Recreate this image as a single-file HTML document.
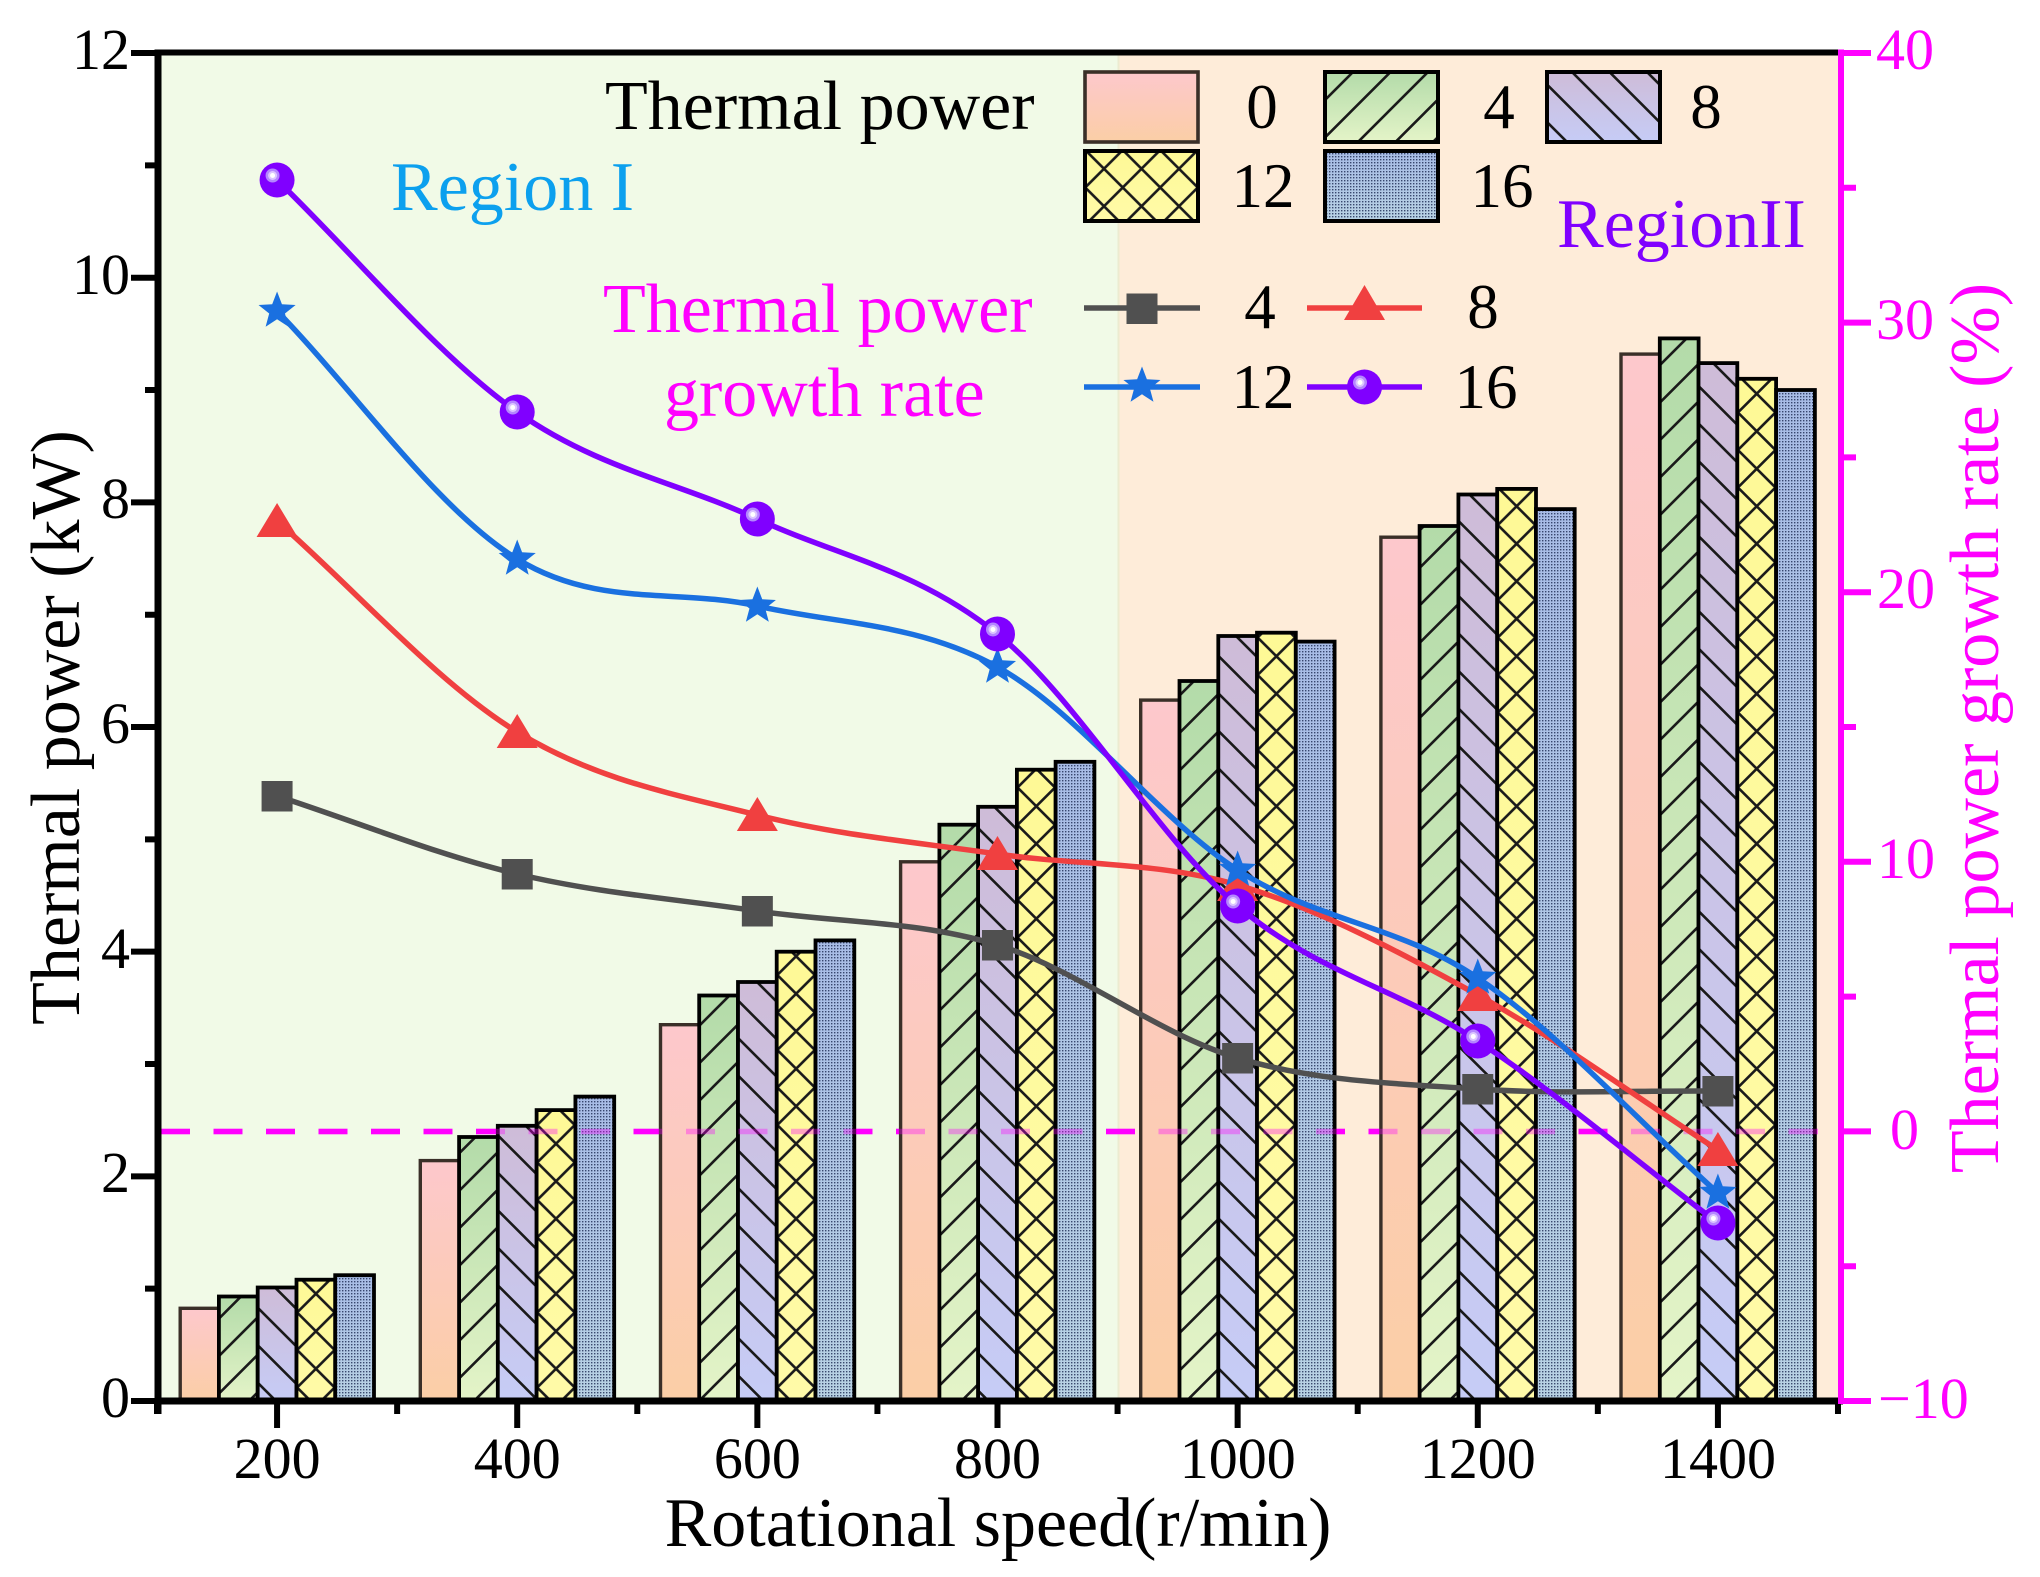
<!DOCTYPE html>
<html>
<head>
<meta charset="utf-8">
<style>
html,body{margin:0;padding:0;background:#fff;}
svg{display:block;}
text{font-family:"Liberation Serif","Times New Roman",serif;}
</style>
</head>
<body>
<svg width="2040" height="1577" viewBox="0 0 2040 1577" xmlns="http://www.w3.org/2000/svg">
<defs>
  <linearGradient id="g0" x1="0" y1="0" x2="0" y2="1"><stop offset="0" stop-color="#fdc8cc"/><stop offset="1" stop-color="#fbcea6"/></linearGradient>
  <linearGradient id="g1" x1="0" y1="0" x2="0" y2="1"><stop offset="0" stop-color="#b3dba9"/><stop offset="1" stop-color="#e4f4c8"/></linearGradient>
  <linearGradient id="g2" x1="0" y1="0" x2="0" y2="1"><stop offset="0" stop-color="#cebcd8"/><stop offset="1" stop-color="#c6ccf6"/></linearGradient>
  <linearGradient id="g3" x1="0" y1="0" x2="0" y2="1"><stop offset="0" stop-color="#fef996"/><stop offset="1" stop-color="#fffaa8"/></linearGradient>
  <linearGradient id="g4" x1="0" y1="0" x2="0" y2="1"><stop offset="0" stop-color="#a8bce6"/><stop offset="1" stop-color="#b8d2e4"/></linearGradient>
  <pattern id="dots" width="3" height="3" patternUnits="userSpaceOnUse"><rect width="1.4" height="1.4" fill="#1a2850" fill-opacity="0.8"/></pattern>
  <pattern id="hR" width="37.5" height="37.5" patternUnits="userSpaceOnUse"><path d="M-5,42.5L42.5,-5M-5,5L5,-5M32.5,42.5L42.5,32.5" stroke="#1a1a1a" stroke-width="2.6" fill="none"/></pattern>
  <pattern id="hL" width="37.5" height="37.5" patternUnits="userSpaceOnUse"><path d="M-5,-5L42.5,42.5M-5,32.5L5,42.5M32.5,-5L42.5,5" stroke="#1a1a1a" stroke-width="2.6" fill="none"/></pattern>
  <path id="xp" d="M-5,-5L42.5,42.5M-5,32.5L5,42.5M32.5,-5L42.5,5M-5,42.5L42.5,-5M-5,5L5,-5M32.5,42.5L42.5,32.5" stroke="#1a1a1a" stroke-width="2.6" fill="none"/>
  <pattern id="x0" x="297.15" y="0" width="37.5" height="37.5" patternUnits="userSpaceOnUse"><use href="#xp"/></pattern>
  <pattern id="x1" x="537.25" y="0" width="37.5" height="37.5" patternUnits="userSpaceOnUse"><use href="#xp"/></pattern>
  <pattern id="x2" x="777.35" y="0" width="37.5" height="37.5" patternUnits="userSpaceOnUse"><use href="#xp"/></pattern>
  <pattern id="x3" x="1017.55" y="0" width="37.5" height="37.5" patternUnits="userSpaceOnUse"><use href="#xp"/></pattern>
  <pattern id="x4" x="1257.65" y="0" width="37.5" height="37.5" patternUnits="userSpaceOnUse"><use href="#xp"/></pattern>
  <pattern id="x5" x="1497.85" y="0" width="37.5" height="37.5" patternUnits="userSpaceOnUse"><use href="#xp"/></pattern>
  <pattern id="x6" x="1737.95" y="0" width="37.5" height="37.5" patternUnits="userSpaceOnUse"><use href="#xp"/></pattern>
  <pattern id="xl" x="1122.75" y="0" width="37.5" height="37.5" patternUnits="userSpaceOnUse"><use href="#xp"/></pattern>

  <path id="sq" d="M-15.5,-15h31v30.5h-31z" fill="#505050"/>
  <path id="tri" d="M0,-18L20.5,16L-20.5,16z" fill="#f04040"/>
  <path id="triL" d="M0,-23L20.5,12L-20.5,12z" fill="#f04040"/>
  <path id="star" d="M0,-19.5L4.88,-6.71L18.55,-6.03L7.89,2.56L11.46,15.78L0,8.3L-11.46,15.78L-7.89,2.56L-18.55,-6.03L-4.88,-6.71z" fill="#1a70e0"/>
  <g id="sph"><circle r="17.5" fill="#8000ff"/><circle cx="-4.5" cy="-4.5" r="7" fill="#b487ff"/><circle cx="-4.5" cy="-4.5" r="4.5" fill="#dcc6ff"/><circle cx="-4.5" cy="-4.5" r="2.5" fill="#fff"/></g>
</defs>

<!-- backgrounds -->
<rect x="158" y="52" width="960" height="1349" fill="#f1fae7"/>
<rect x="1118" y="52" width="723" height="1349" fill="#feecd9"/>
<line x1="1118.5" y1="55" x2="1118.5" y2="1398" stroke="#ecebd0" stroke-width="2"/>

<!-- dashed zero line (under bars) -->
<line x1="161" y1="1131.5" x2="1838" y2="1131.5" stroke="#ff00ff" stroke-width="5.5" stroke-dasharray="29 23.5"/>

<!-- bars -->
<g>
  <!-- 200 -->
  <rect x="180.2" y="1308.3" width="38.8" height="92.7" fill="url(#g0)" stroke="#3a2f28" stroke-width="3.4"/>
  <rect x="218.9" y="1296.5" width="38.8" height="104.5" fill="url(#g1)"/><rect x="218.9" y="1296.5" width="38.8" height="104.5" fill="url(#hR)" stroke="#000" stroke-width="3.8"/>
  <rect x="257.7" y="1287.5" width="38.8" height="113.5" fill="url(#g2)"/><rect x="257.7" y="1287.5" width="38.8" height="113.5" fill="url(#hL)" stroke="#000" stroke-width="3.8"/>
  <rect x="296.5" y="1279.7" width="38.8" height="121.3" fill="url(#g3)"/><rect x="296.5" y="1279.7" width="38.8" height="121.3" fill="url(#x0)" stroke="#000" stroke-width="3.8"/>
  <rect x="335.2" y="1275.2" width="38.8" height="125.8" fill="url(#g4)"/><rect x="335.2" y="1275.2" width="38.8" height="125.8" fill="url(#dots)" stroke="#000" stroke-width="3.8"/>
  <!-- 400 -->
  <rect x="420.3" y="1160.6" width="38.8" height="240.4" fill="url(#g0)" stroke="#3a2f28" stroke-width="3.4"/>
  <rect x="459.1" y="1137" width="38.8" height="264" fill="url(#g1)"/><rect x="459.1" y="1137" width="38.8" height="264" fill="url(#hR)" stroke="#000" stroke-width="3.8"/>
  <rect x="497.8" y="1125.8" width="38.8" height="275.2" fill="url(#g2)"/><rect x="497.8" y="1125.8" width="38.8" height="275.2" fill="url(#hL)" stroke="#000" stroke-width="3.8"/>
  <rect x="536.6" y="1110.1" width="38.8" height="290.9" fill="url(#g3)"/><rect x="536.6" y="1110.1" width="38.8" height="290.9" fill="url(#x1)" stroke="#000" stroke-width="3.8"/>
  <rect x="575.4" y="1096.6" width="38.8" height="304.4" fill="url(#g4)"/><rect x="575.4" y="1096.6" width="38.8" height="304.4" fill="url(#dots)" stroke="#000" stroke-width="3.8"/>
  <!-- 600 -->
  <rect x="660.5" y="1024.7" width="38.8" height="376.3" fill="url(#g0)" stroke="#3a2f28" stroke-width="3.4"/>
  <rect x="699.2" y="995.5" width="38.8" height="405.5" fill="url(#g1)"/><rect x="699.2" y="995.5" width="38.8" height="405.5" fill="url(#hR)" stroke="#000" stroke-width="3.8"/>
  <rect x="738" y="982" width="38.8" height="419" fill="url(#g2)"/><rect x="738" y="982" width="38.8" height="419" fill="url(#hL)" stroke="#000" stroke-width="3.8"/>
  <rect x="776.7" y="951.7" width="38.8" height="449.3" fill="url(#g3)"/><rect x="776.7" y="951.7" width="38.8" height="449.3" fill="url(#x2)" stroke="#000" stroke-width="3.8"/>
  <rect x="815.5" y="940.4" width="38.8" height="460.6" fill="url(#g4)"/><rect x="815.5" y="940.4" width="38.8" height="460.6" fill="url(#dots)" stroke="#000" stroke-width="3.8"/>
  <!-- 800 -->
  <rect x="900.6" y="861.8" width="38.8" height="539.2" fill="url(#g0)" stroke="#3a2f28" stroke-width="3.4"/>
  <rect x="939.4" y="824.7" width="38.8" height="576.3" fill="url(#g1)"/><rect x="939.4" y="824.7" width="38.8" height="576.3" fill="url(#hR)" stroke="#000" stroke-width="3.8"/>
  <rect x="978.1" y="806.8" width="38.8" height="594.2" fill="url(#g2)"/><rect x="978.1" y="806.8" width="38.8" height="594.2" fill="url(#hL)" stroke="#000" stroke-width="3.8"/>
  <rect x="1016.9" y="769.7" width="38.8" height="631.3" fill="url(#g3)"/><rect x="1016.9" y="769.7" width="38.8" height="631.3" fill="url(#x3)" stroke="#000" stroke-width="3.8"/>
  <rect x="1055.6" y="761.8" width="38.8" height="639.2" fill="url(#g4)"/><rect x="1055.6" y="761.8" width="38.8" height="639.2" fill="url(#dots)" stroke="#000" stroke-width="3.8"/>
  <!-- 1000 -->
  <rect x="1140.7" y="700.1" width="38.8" height="700.9" fill="url(#g0)" stroke="#3a2f28" stroke-width="3.4"/>
  <rect x="1179.5" y="681" width="38.8" height="720" fill="url(#g1)"/><rect x="1179.5" y="681" width="38.8" height="720" fill="url(#hR)" stroke="#000" stroke-width="3.8"/>
  <rect x="1218.3" y="636" width="38.8" height="765" fill="url(#g2)"/><rect x="1218.3" y="636" width="38.8" height="765" fill="url(#hL)" stroke="#000" stroke-width="3.8"/>
  <rect x="1257" y="632.7" width="38.8" height="768.3" fill="url(#g3)"/><rect x="1257" y="632.7" width="38.8" height="768.3" fill="url(#x4)" stroke="#000" stroke-width="3.8"/>
  <rect x="1295.8" y="641.6" width="38.8" height="759.4" fill="url(#g4)"/><rect x="1295.8" y="641.6" width="38.8" height="759.4" fill="url(#dots)" stroke="#000" stroke-width="3.8"/>
  <!-- 1200 -->
  <rect x="1380.9" y="537.2" width="38.8" height="863.8" fill="url(#g0)" stroke="#3a2f28" stroke-width="3.4"/>
  <rect x="1419.6" y="526" width="38.8" height="875" fill="url(#g1)"/><rect x="1419.6" y="526" width="38.8" height="875" fill="url(#hR)" stroke="#000" stroke-width="3.8"/>
  <rect x="1458.4" y="494.5" width="38.8" height="906.5" fill="url(#g2)"/><rect x="1458.4" y="494.5" width="38.8" height="906.5" fill="url(#hL)" stroke="#000" stroke-width="3.8"/>
  <rect x="1497.2" y="488.9" width="38.8" height="912.1" fill="url(#g3)"/><rect x="1497.2" y="488.9" width="38.8" height="912.1" fill="url(#x5)" stroke="#000" stroke-width="3.8"/>
  <rect x="1535.9" y="509.1" width="38.8" height="891.9" fill="url(#g4)"/><rect x="1535.9" y="509.1" width="38.8" height="891.9" fill="url(#dots)" stroke="#000" stroke-width="3.8"/>
  <!-- 1400 -->
  <rect x="1621" y="354.1" width="38.8" height="1046.9" fill="url(#g0)" stroke="#3a2f28" stroke-width="3.4"/>
  <rect x="1659.8" y="338.4" width="38.8" height="1062.6" fill="url(#g1)"/><rect x="1659.8" y="338.4" width="38.8" height="1062.6" fill="url(#hR)" stroke="#000" stroke-width="3.8"/>
  <rect x="1698.5" y="363.1" width="38.8" height="1037.9" fill="url(#g2)"/><rect x="1698.5" y="363.1" width="38.8" height="1037.9" fill="url(#hL)" stroke="#000" stroke-width="3.8"/>
  <rect x="1737.3" y="378.8" width="38.8" height="1022.2" fill="url(#g3)"/><rect x="1737.3" y="378.8" width="38.8" height="1022.2" fill="url(#x6)" stroke="#000" stroke-width="3.8"/>
  <rect x="1776.1" y="390" width="38.8" height="1011" fill="url(#g4)"/><rect x="1776.1" y="390" width="38.8" height="1011" fill="url(#dots)" stroke="#000" stroke-width="3.8"/>
</g>

<!-- dashed overlay (faint over bars) -->
<line x1="161" y1="1131.5" x2="1838" y2="1131.5" stroke="#ff00ff" stroke-width="5.5" stroke-dasharray="29 23.5" stroke-opacity="0.35"/>

<!-- curves -->
<g fill="none" stroke-width="5.5" stroke-linejoin="round" stroke-linecap="round">
  <path stroke="#505050" d="M277.07,796C357.12,822 437.16,854.83 517.21,874C597.26,893.17 677.3,899.17 757.35,911C837.4,922.83 917.44,920.5 997.49,945C1077.54,969.5 1157.58,1034 1237.63,1058C1317.68,1082 1397.72,1083.5 1477.77,1089C1557.82,1094.5 1637.86,1090.33 1717.91,1091"/>
</g>
<g>
  <use href="#sq" x="277.07" y="796"/><use href="#sq" x="517.21" y="874"/><use href="#sq" x="757.35" y="911"/><use href="#sq" x="997.49" y="945"/><use href="#sq" x="1237.63" y="1058"/><use href="#sq" x="1477.77" y="1089"/><use href="#sq" x="1717.91" y="1091"/>
</g>
<g fill="none" stroke-width="5.5" stroke-linejoin="round" stroke-linecap="round">
  <path stroke="#f04040" d="M277.07,521C357.12,591.33 437.16,683 517.21,732C597.26,781 677.3,794.67 757.35,815C837.4,835.33 917.44,842.33 997.49,854C1077.54,865.67 1157.58,861.5 1237.63,885C1317.68,908.5 1397.72,950.83 1477.77,995C1557.82,1039.17 1637.86,1098.33 1717.91,1150"/>
</g>
<g>
  <use href="#tri" x="277.07" y="521"/><use href="#tri" x="517.21" y="732"/><use href="#tri" x="757.35" y="815"/><use href="#tri" x="997.49" y="854"/><use href="#tri" x="1237.63" y="885"/><use href="#tri" x="1477.77" y="995"/><use href="#tri" x="1717.91" y="1150"/>
</g>
<g fill="none" stroke-width="5.5" stroke-linejoin="round" stroke-linecap="round">
  <path stroke="#1a70e0" d="M277.07,311C357.12,393.67 437.16,509.83 517.21,559C597.26,608.17 677.3,588 757.35,606C837.4,624 917.44,623 997.49,667C1077.54,711 1157.58,818.17 1237.63,870C1317.68,921.83 1397.72,924.17 1477.77,978C1557.82,1031.83 1637.86,1121.33 1717.91,1193"/>
</g>
<g>
  <use href="#star" x="277.07" y="311"/><use href="#star" x="517.21" y="559"/><use href="#star" x="757.35" y="606"/><use href="#star" x="997.49" y="667"/><use href="#star" x="1237.63" y="870"/><use href="#star" x="1477.77" y="978"/><use href="#star" x="1717.91" y="1193"/>
</g>
<g fill="none" stroke-width="5.5" stroke-linejoin="round" stroke-linecap="round">
  <path stroke="#8000ff" d="M277.07,180C357.12,257.33 437.16,355.5 517.21,412C597.26,468.5 677.3,482 757.35,519C837.4,556 917.44,569.5 997.49,634C1077.54,698.5 1157.58,838.17 1237.63,906C1317.68,973.83 1397.72,988.17 1477.77,1041C1557.82,1093.83 1637.86,1162.33 1717.91,1223"/>
</g>
<g>
  <use href="#sph" x="277.07" y="180"/><use href="#sph" x="517.21" y="412"/><use href="#sph" x="757.35" y="519"/><use href="#sph" x="997.49" y="634"/><use href="#sph" x="1237.63" y="906"/><use href="#sph" x="1477.77" y="1041"/><use href="#sph" x="1717.91" y="1223"/>
</g>

<!-- legend boxes -->
<rect x="1085" y="72" width="113" height="70" fill="url(#g0)" stroke="#3a2f28" stroke-width="3.6"/>
<rect x="1325" y="72" width="113" height="70" fill="url(#g1)"/><rect x="1325" y="72" width="113" height="70" fill="url(#hR)" stroke="#000" stroke-width="4"/>
<rect x="1547" y="72" width="113" height="70" fill="url(#g2)"/><rect x="1547" y="72" width="113" height="70" fill="url(#hL)" stroke="#000" stroke-width="4"/>
<rect x="1085" y="151" width="113" height="70" fill="url(#g3)"/><rect x="1085" y="151" width="113" height="70" fill="url(#xl)" stroke="#000" stroke-width="4"/>
<rect x="1325" y="151" width="113" height="70" fill="url(#g4)"/><rect x="1325" y="151" width="113" height="70" fill="url(#dots)" stroke="#000" stroke-width="4"/>

<!-- legend lines -->
<line x1="1084" y1="308" x2="1200" y2="308" stroke="#505050" stroke-width="5.5"/>
<use href="#sq" x="1142" y="308.5"/>
<line x1="1307" y1="308" x2="1422" y2="308" stroke="#f04040" stroke-width="5.5"/>
<use href="#triL" x="1364.5" y="308"/>
<line x1="1084" y1="387" x2="1200" y2="387" stroke="#1a70e0" stroke-width="5.5"/>
<use href="#star" x="1142" y="386"/>
<line x1="1307" y1="387" x2="1422" y2="387" stroke="#8000ff" stroke-width="5.5"/>
<use href="#sph" x="1364.5" y="387"/>

<!-- ticks -->
<path stroke="#000" stroke-width="6" fill="none" d="M131,1401H158M145,1288.67H158M131,1176.34H158M145,1064.01H158M131,951.68H158M145,839.35H158M131,727.02H158M145,614.69H158M131,502.36H158M145,390.03H158M131,277.7H158M145,165.37H158M131,53.04H158"/>
<path stroke="#000" stroke-width="6" fill="none" d="M157,1401V1414M277.07,1401V1428M397.14,1401V1414M517.21,1401V1428M637.28,1401V1414M757.35,1401V1428M877.42,1401V1414M997.49,1401V1428M1117.56,1401V1414M1237.63,1401V1428M1357.7,1401V1414M1477.77,1401V1428M1597.84,1401V1414M1717.91,1401V1428M1837.98,1401V1414"/>
<path stroke="#ff00ff" stroke-width="6" fill="none" d="M1841,1401H1871M1841,1266.2H1856M1841,1131.4H1871M1841,996.6H1856M1841,861.8H1871M1841,727H1856M1841,592.2H1871M1841,457.4H1856M1841,322.6H1871M1841,187.8H1856M1841,53H1871"/>

<!-- axes -->
<line x1="155" y1="52.5" x2="1841" y2="52.5" stroke="#000" stroke-width="6"/>
<line x1="155" y1="1401" x2="1843" y2="1401" stroke="#000" stroke-width="7"/>
<line x1="158" y1="49.5" x2="158" y2="1414" stroke="#000" stroke-width="7"/>
<line x1="1841" y1="49.5" x2="1841" y2="1404" stroke="#ff00ff" stroke-width="6"/>

<!-- left tick labels -->
<g font-size="58" text-anchor="end" fill="#000">
  <text x="130" y="1417">0</text>
  <text x="130" y="1192">2</text>
  <text x="130" y="968">4</text>
  <text x="130" y="743">6</text>
  <text x="130" y="518">8</text>
  <text x="130" y="294">10</text>
  <text x="130" y="69">12</text>
</g>
<!-- bottom tick labels -->
<g font-size="58" text-anchor="middle" fill="#000">
  <text x="277.1" y="1478">200</text>
  <text x="517.3" y="1478">400</text>
  <text x="757.4" y="1478">600</text>
  <text x="997.5" y="1478">800</text>
  <text x="1237.7" y="1478">1000</text>
  <text x="1477.8" y="1478">1200</text>
  <text x="1718" y="1478">1400</text>
</g>
<!-- right tick labels -->
<g font-size="58" fill="#ff00ff">
  <text x="1876" y="69">40</text>
  <text x="1876" y="339">30</text>
  <text x="1877" y="608">20</text>
  <text x="1877" y="878">10</text>
  <text x="1890" y="1149">0</text>
  <text x="1878" y="1418">−10</text>
</g>

<!-- axis titles -->
<text x="998" y="1546" font-size="70" text-anchor="middle" fill="#000">Rotational speed(r/min)</text>
<text transform="translate(79,727.5) rotate(-90)" font-size="70" text-anchor="middle" fill="#000">Thermal power (kW)</text>
<text transform="translate(1998,728) rotate(-90)" font-size="70" text-anchor="middle" fill="#ff00ff">Thermal power growth rate (%)</text>

<!-- annotations -->
<text x="605" y="129" font-size="70" fill="#000">Thermal power</text>
<text x="391" y="210" font-size="70" fill="#0ca0ee">Region I</text>
<text x="1557" y="247" font-size="70" fill="#8000ff">RegionII</text>
<text x="603" y="332" font-size="70" fill="#ff00ff">Thermal power</text>
<text x="664" y="416" font-size="70" fill="#ff00ff">growth rate</text>

<!-- legend labels -->
<g font-size="63" text-anchor="middle" fill="#000">
  <text x="1262" y="128">0</text>
  <text x="1499" y="128">4</text>
  <text x="1706" y="128">8</text>
  <text x="1263" y="207">12</text>
  <text x="1502" y="207">16</text>
  <text x="1260" y="328">4</text>
  <text x="1483" y="328">8</text>
  <text x="1263" y="408">12</text>
  <text x="1486" y="408">16</text>
</g>
</svg>
</body>
</html>
